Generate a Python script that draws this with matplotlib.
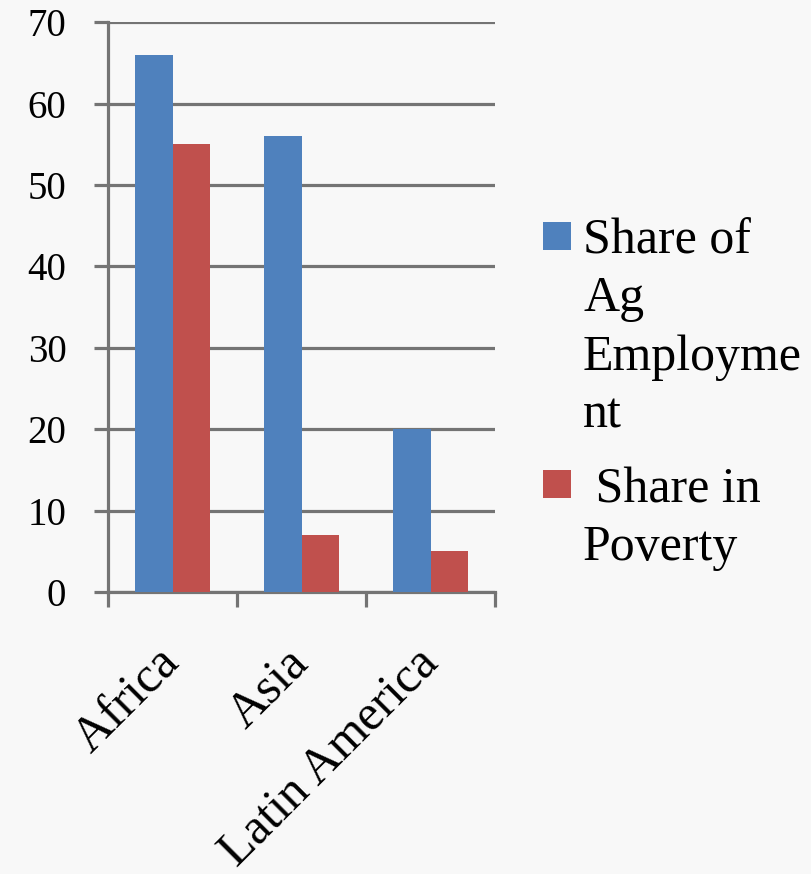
import matplotlib
matplotlib.use("Agg")
import matplotlib.pyplot as plt
from matplotlib.patches import Rectangle

regions = ["Africa", "Asia", "Latin America"]
ag_employment = [66, 56, 20]
poverty_share = [55, 7, 5]
y_ticks = [0, 10, 20, 30, 40, 50, 60, 70]

BLUE = "#4f81bd"
RED = "#c0504d"
GRID = "#747474"
BG = "#f8f8f8"
FONT = "Liberation Serif"

fig = plt.figure(figsize=(8.12, 8.74), dpi=100, facecolor=BG)
ax = fig.add_axes([0.133, 0.3227, 0.477, 0.652], facecolor=BG)

width = 0.29
x = list(range(len(regions)))
ax.bar([i - width / 2 for i in x], ag_employment, width, color=BLUE, zorder=3)
ax.bar([i + width / 2 for i in x], poverty_share, width, color=RED, zorder=3)

ax.set_xlim(-0.5, len(regions) - 0.5)
ax.set_ylim(0, 70)
ax.set_yticks(y_ticks)
ax.set_yticklabels([str(v) for v in y_ticks], fontsize=28, family=FONT)
ax.yaxis.grid(True, color=GRID, linewidth=2.3, zorder=1)
ax.tick_params(axis="y", length=10, width=2.3, color=GRID, pad=20)

ax.set_xticks(x)
ax.set_xticklabels(regions, fontsize=36, family=FONT, rotation=45,
                   ha="right", va="center", rotation_mode="anchor")
ax.set_xticks([-0.5, 0.5, 1.5, 2.5], minor=True)
ax.tick_params(axis="x", which="major", length=0, pad=46)
ax.tick_params(axis="x", which="minor", length=11, width=2.3, color=GRID)

for side in ("top", "right"):
    ax.spines[side].set_visible(False)
for side in ("left", "bottom"):
    ax.spines[side].set_color(GRID)
    ax.spines[side].set_linewidth(2.3)

# legend drawn by hand so each swatch sits on the first line of its label
legend_items = [
    (BLUE, "Share of\nAg\nEmployme\nnt", 0.714, 0.751),
    (RED, " Share in\nPoverty", 0.430, 0.466),
]
for color, label, sq_y, txt_y in legend_items:
    fig.add_artist(Rectangle((0.669, sq_y), 0.0345, 0.032, transform=fig.transFigure,
                             facecolor=color, edgecolor="none"))
    fig.text(0.718, txt_y, label, fontsize=36, family=FONT, va="top", ha="left",
             linespacing=1.33)

fig.savefig("out.png", dpi=100, facecolor=BG)
